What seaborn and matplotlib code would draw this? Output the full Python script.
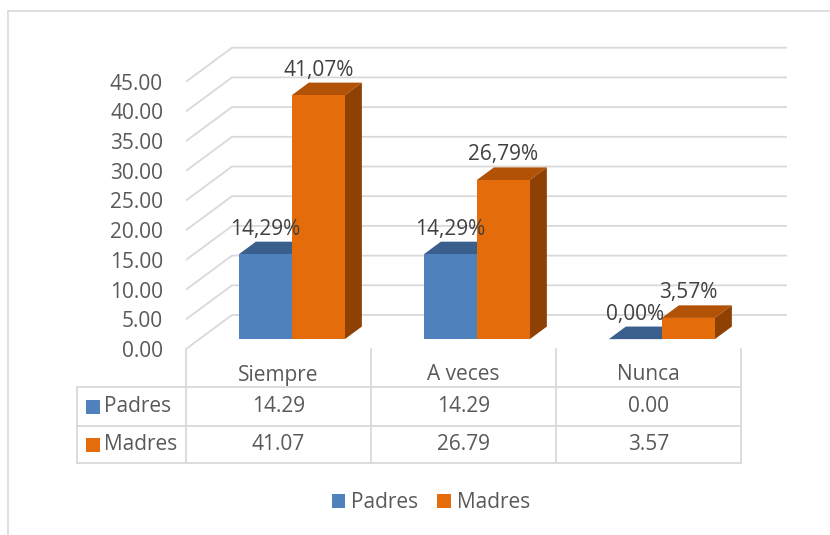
import numpy as np
import pandas as pd
import matplotlib
matplotlib.use("Agg")
import matplotlib.pyplot as plt
from matplotlib.patches import Polygon, Patch, Rectangle
import seaborn as sns

# ---------------- data ----------------
categories = ["Siempre", "A veces", "Nunca"]
series_names = ["Padres", "Madres"]
padres = [14.29, 14.29, 0.00]
madres = [41.07, 26.79, 3.57]
y_ticks = [0, 5, 10, 15, 20, 25, 30, 35, 40, 45]

# ---------------- style ----------------
FRONT = ["#4F81BD", "#E46C0A"]
TOP = ["#3B5F8D", "#B25206"]
SIDE = ["#34557F", "#8F4104"]
GRID = "#D9D9D9"
TXT = "#595959"
LBL = "#404040"
FS = 15

sns.set_style("white")
plt.rcParams["font.family"] = ["Open Sans", "DejaVu Sans"]

W, H = 830, 535
fig = plt.figure(figsize=(W / 100, H / 100), dpi=100)

# layout (pixels)
AX_L, AX_R, AX_T, AX_B = 186, 790, 30, 349
PX_CAT = 185.0
PX_UNIT = 5.94
DEPTH_DX, DEPTH_DY = 46.0, 34.0
F0, F1 = 0.29, 0.66
DXu = DEPTH_DX / PX_CAT
DYu = DEPTH_DY / PX_UNIT

ax = fig.add_axes([AX_L / W, 1 - AX_B / H, (AX_R - AX_L) / W, (AX_B - AX_T) / H])
ax.set_facecolor("none")


def pt(c, v, f):
    return (c + (f - F0) * DXu, v + (f - F0) * DYu)


df = pd.DataFrame({
    "categoria": categories * 2,
    "serie": [series_names[0]] * len(categories) + [series_names[1]] * len(categories),
    "valor": padres + madres,
})

sns.barplot(data=df, x="categoria", y="valor", hue="serie", order=categories,
            hue_order=series_names, palette=FRONT, saturation=1, width=0.573,
            linewidth=0, legend=False, ax=ax)

x_lo = -0.5 - F0 * DXu
y_lo = -F0 * DYu
ax.set_xlim(x_lo, x_lo + (AX_R - AX_L) / PX_CAT)
ax.set_ylim(y_lo, y_lo + (AX_B - AX_T) / PX_UNIT)

# walls / gridlines
n = len(categories)
for v in y_ticks:
    p0 = pt(-0.5, v, 0)
    p1 = pt(-0.5, v, 1)
    p2 = pt(n - 0.5, v, 1)
    ax.plot([p0[0], p1[0], p2[0]], [p0[1], p1[1], p2[1]], color=GRID, lw=1.3,
            zorder=1, solid_capstyle="butt")

# 3D bar parts and labels
d = F1 - F0
ddx, ddy = d * DXu, d * DYu
for i, cont in enumerate(ax.containers):
    z = 2 + 2 * i
    for bar in cont:
        x0 = bar.get_x()
        w = bar.get_width()
        h = bar.get_height()
        x1 = x0 + w
        bar.set_zorder(z + 0.5)
        ax.add_patch(Polygon([(x0, h), (x1, h), (x1 + ddx, h + ddy), (x0 + ddx, h + ddy)],
                             closed=True, fc=TOP[i], ec="none", zorder=z))
        ax.add_patch(Polygon([(x1, 0), (x1, h), (x1 + ddx, h + ddy), (x1 + ddx, ddy)],
                             closed=True, fc=SIDE[i], ec="none", zorder=z))
        label = f"{h:.2f}".replace(".", ",") + "%"
        ax.annotate(label, xy=(x0 + w / 2, h + ddy), xytext=(0, 9),
                    textcoords="offset points", ha="center", va="center",
                    fontsize=FS, color=LBL, zorder=10)

ax.set_yticks([v + y_lo for v in y_ticks])
ax.set_yticklabels([f"{v:.2f}" for v in y_ticks])
ax.tick_params(axis="y", length=0, pad=16.5, labelcolor=TXT, labelsize=FS)
ax.set_xticks([])
ax.set_xlabel("")
ax.set_ylabel("")
for s in ax.spines.values():
    s.set_visible(False)

# ---------------- data table (pixel overlay) ----------------
tab = fig.add_axes([0, 0, 1, 1], zorder=-1)
tab.set_xlim(0, W)
tab.set_ylim(H, 0)
tab.axis("off")
tab.set_facecolor("none")

# chart border
tab.plot([8, W], [11, 11], color=GRID, lw=1.2)
tab.plot([8, 8], [11, H], color=GRID, lw=1.2)

COL_X = [AX_L + k * PX_CAT for k in range(n + 1)]
TBL_L = 77
ROW_Y = [349, 387, 426, 463]
for x in COL_X:
    tab.plot([x, x], [ROW_Y[0], ROW_Y[-1]], color=GRID, lw=1.3)
tab.plot([TBL_L, TBL_L], [ROW_Y[1], ROW_Y[-1]], color=GRID, lw=1.3)
for y in ROW_Y[1:]:
    tab.plot([TBL_L, COL_X[-1]], [y, y], color=GRID, lw=1.3)

for k, cat in enumerate(categories):
    tab.text((COL_X[k] + COL_X[k + 1]) / 2, 375, cat, ha="center", va="center",
             fontsize=FS, color=TXT)

for r, (name, vals) in enumerate(zip(series_names, [padres, madres])):
    yc = (ROW_Y[r + 1] + ROW_Y[r + 2]) / 2
    tab.add_patch(Rectangle((86, yc - 7), 14, 14, fc=FRONT[r], ec="none"))
    tab.text(104, yc, name, ha="left", va="center", fontsize=FS, color=TXT)
    for k, v in enumerate(vals):
        tab.text((COL_X[k] + COL_X[k + 1]) / 2, yc, f"{v:.2f}", ha="center",
                 va="center", fontsize=FS, color=TXT)

# legend
handles = [Patch(fc=FRONT[i], ec="none") for i in range(len(series_names))]
fig.legend(handles=handles, labels=series_names, loc="center",
           bbox_to_anchor=(431 / W, 1 - 503 / H), ncol=2, frameon=False,
           fontsize=FS, handlelength=0.65, handleheight=0.65, handletextpad=0.3,
           columnspacing=0.9, labelcolor=TXT)

fig.savefig("out.png", dpi=100)
